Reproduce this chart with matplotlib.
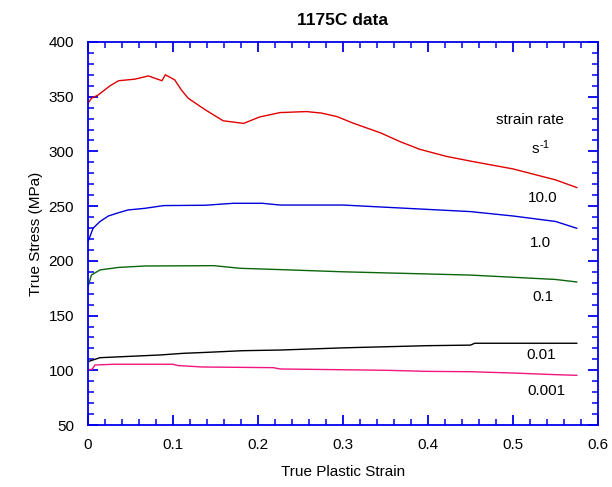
import matplotlib.pyplot as plt
from matplotlib.ticker import MultipleLocator

plt.rcParams['font.family'] = ['Liberation Sans', 'DejaVu Sans']

# strain rate 10.0 /s
strain_10 = [0.0, 0.004, 0.012, 0.026, 0.036, 0.055, 0.071, 0.087, 0.091, 0.102, 0.11, 0.118,
             0.138, 0.159, 0.183, 0.202, 0.226, 0.257, 0.275, 0.293, 0.312, 0.344, 0.367, 0.39,
             0.422, 0.453, 0.5, 0.55, 0.575]
stress_10 = [344, 348.5, 351.6, 360, 364.6, 366, 369, 364.6, 370, 365.4, 356, 348.5,
             338, 328, 325.6, 331.5, 335.5, 336.4, 335, 331.8, 325.8, 317, 309, 302,
             295.4, 290.7, 284, 274, 267]

# strain rate 1.0 /s
strain_1 = [0.0, 0.006, 0.014, 0.024, 0.036, 0.047, 0.067, 0.089, 0.138, 0.171, 0.205, 0.226,
            0.3, 0.35, 0.4, 0.45, 0.5, 0.55, 0.575]
stress_1 = [217.5, 229.8, 235.9, 241, 244, 246.5, 248, 250.5, 250.8, 252.6, 252.6, 251,
            251, 249, 247, 245, 241, 236, 229.8]

# strain rate 0.1 /s
strain_01 = [0.0, 0.004, 0.014, 0.036, 0.067, 0.148, 0.179, 0.226, 0.3, 0.35, 0.4, 0.45,
             0.5, 0.55, 0.575]
stress_01 = [176.4, 187, 191.7, 194, 195.3, 195.6, 193.2, 192, 190, 189, 188, 187,
             185, 183, 180.7]

# strain rate 0.01 /s
strain_001 = [0.0, 0.014, 0.085, 0.112, 0.14, 0.182, 0.226, 0.3, 0.35, 0.4, 0.45, 0.455,
              0.5, 0.575]
stress_001 = [107.9, 111.5, 114, 115.5, 116.4, 117.9, 118.5, 120.5, 121.5, 122.5, 123, 124.7,
              124.7, 124.7]

# strain rate 0.001 /s
strain_0001 = [0.0, 0.005, 0.008, 0.03, 0.1, 0.106, 0.135, 0.218, 0.226, 0.3, 0.35, 0.4,
               0.45, 0.5, 0.55, 0.575]
stress_0001 = [100.5, 101, 104.8, 105.5, 105.5, 104.3, 103, 102.4, 101.2, 100.5, 100, 99,
               98.7, 97.5, 96, 95.4]

rate_labels = ['10.0', '1.0', '0.1', '0.01', '0.001']
label_x = [0.535, 0.532, 0.535, 0.533, 0.539]
label_y = [257.5, 216, 167, 114, 81]

fig = plt.figure(figsize=(6.12, 4.87), dpi=100)
ax = fig.add_axes([0.1438, 0.1273, 0.8333, 0.7865])

lw = 1.0
ax.plot(strain_10, stress_10, color='#e00000', lw=lw)
ax.plot(strain_1, stress_1, color='#0000dd', lw=lw)
ax.plot(strain_01, stress_01, color='#0b650b', lw=lw)
ax.plot(strain_001, stress_001, color='black', lw=lw)
ax.plot(strain_0001, stress_0001, color='#f0157f', lw=lw)

fs = 11
for lab, x, y in zip(rate_labels, label_x, label_y):
    ax.text(x, y, lab, ha='center', va='center', fontsize=fs)
ax.text(0.52, 328.8, 'strain rate', ha='center', va='center', fontsize=fs)
ax.text(0.526, 302, 's', ha='center', va='center', fontsize=fs)
ax.text(0.531, 306, '-1', ha='left', va='center', fontsize=8)

ax.set_xlim(0, 0.6)
ax.set_ylim(50, 400)
ax.set_xticks([0, 0.1, 0.2, 0.3, 0.4, 0.5, 0.6])
ax.set_xticklabels(['0', '0.1', '0.2', '0.3', '0.4', '0.5', '0.6'])
ax.xaxis.set_minor_locator(MultipleLocator(0.02))
ax.yaxis.set_major_locator(MultipleLocator(50))
ax.yaxis.set_minor_locator(MultipleLocator(10))

for s in ax.spines.values():
    s.set_color('#0000ee')
    s.set_linewidth(1.3)
ax.tick_params(which='both', direction='in', top=True, right=True,
               color='#0000ee', labelsize=fs, labelcolor='black')
ax.tick_params(which='major', length=7, width=1.3)
ax.tick_params(axis='x', which='major', pad=9)
ax.tick_params(axis='y', which='major', pad=10)
ax.tick_params(which='minor', length=4, width=1.1)

ax.set_xlabel('True Plastic Strain', fontsize=fs, labelpad=10)
ax.set_ylabel('True Stress (MPa)', fontsize=fs, labelpad=4)
ax.set_title('1175C data', fontsize=12.5, fontweight='bold', pad=12)

fig.savefig('out.png', dpi=100)
